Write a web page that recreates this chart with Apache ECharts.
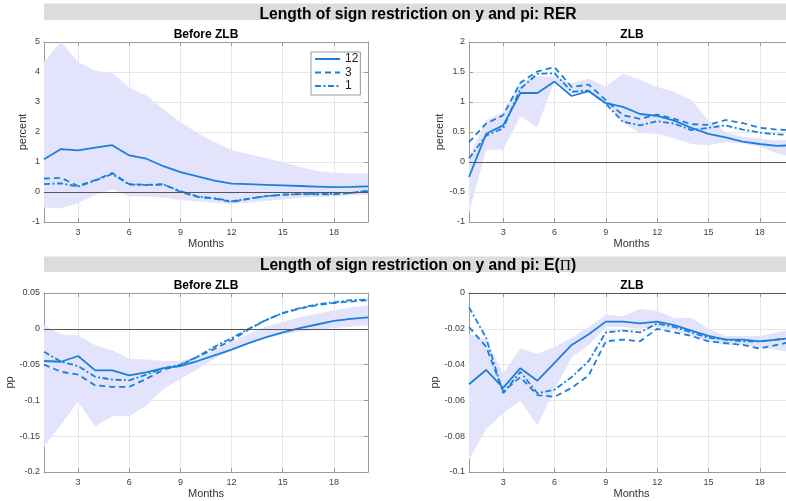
<!DOCTYPE html>
<html lang="en">
<head>
    <meta charset="UTF-8">
    <title>Length of sign restriction on y and pi</title>
    <script src="https://cdn.jsdelivr.net/npm/echarts@6.0.0/dist/echarts.min.js"></script>
</head>
<body style="margin:0">
<div id="main" style="width: 786px; height: 501px;"></div>
<script type="text/javascript">
    // horizon (months) and tick positions
    var months = [1, 2, 3, 4, 5, 6, 7, 8, 9, 10, 11, 12, 13, 14, 15, 16, 17, 18, 19, 20];
    var xTicks = [3, 6, 9, 12, 15, 18];
    var legendNames = ['12', '3', '1'];

    // RER, before ZLB
    var rerBefore12 = [1.09, 1.43, 1.39, 1.48, 1.56, 1.22, 1.11, 0.86, 0.66, 0.52, 0.38, 0.28, 0.26, 0.24, 0.22, 0.2, 0.18, 0.16, 0.17, 0.19];
    var rerBefore3 = [0.45, 0.47, 0.2, 0.4, 0.63, 0.26, 0.24, 0.26, 0.0, -0.16, -0.22, -0.33, -0.23, -0.14, -0.09, -0.07, -0.08, -0.08, -0.03, 0.03];
    var rerBefore1 = [0.26, 0.29, 0.18, 0.38, 0.6, 0.25, 0.23, 0.25, 0.03, -0.15, -0.21, -0.31, -0.22, -0.14, -0.09, -0.07, -0.06, -0.06, -0.03, 0.04];
    var rerBeforeHi = [4.33, 5.0, 4.33, 4.04, 3.97, 3.48, 3.22, 2.76, 2.33, 1.97, 1.67, 1.4, 1.26, 1.13, 0.99, 0.84, 0.7, 0.64, 0.62, 0.62];
    var rerBeforeLo = [-0.52, -0.55, -0.37, -0.1, 0.09, -0.14, -0.15, -0.18, -0.27, -0.31, -0.36, -0.4, -0.36, -0.3, -0.25, -0.2, -0.17, -0.14, -0.11, -0.09];

    // RER, ZLB
    var rerZlb12 = [-0.25, 0.47, 0.61, 1.15, 1.15, 1.34, 1.1, 1.18, 0.98, 0.92, 0.8, 0.77, 0.69, 0.57, 0.47, 0.41, 0.34, 0.3, 0.27, 0.28];
    var rerZlb3 = [0.33, 0.64, 0.78, 1.32, 1.51, 1.58, 1.25, 1.29, 1.03, 0.78, 0.72, 0.79, 0.72, 0.63, 0.62, 0.7, 0.65, 0.57, 0.54, 0.53];
    var rerZlb1 = [0.06, 0.44, 0.56, 1.22, 1.47, 1.48, 1.17, 1.19, 0.97, 0.67, 0.61, 0.68, 0.64, 0.53, 0.57, 0.61, 0.54, 0.49, 0.46, 0.45];
    var rerZlbHi = [0.08, 0.69, 0.83, 1.33, 1.43, 1.42, 1.31, 1.39, 1.26, 1.47, 1.37, 1.25, 1.17, 1.03, 0.69, 0.5, 0.42, 0.39, 0.36, 0.38];
    var rerZlbLo = [-0.85, 0.2, 0.21, 0.76, 0.58, 1.36, 1.15, 1.17, 1.0, 0.66, 0.48, 0.47, 0.39, 0.3, 0.28, 0.33, 0.31, 0.26, 0.14, 0.08];

    // E(Pi), before ZLB
    var epiBefore12 = [-0.045, -0.046, -0.038, -0.058, -0.058, -0.065, -0.061, -0.055, -0.052, -0.045, -0.037, -0.029, -0.02, -0.012, -0.005, 0.001, 0.006, 0.011, 0.014, 0.016];
    var epiBefore3 = [-0.05, -0.06, -0.064, -0.079, -0.081, -0.081, -0.07, -0.057, -0.051, -0.039, -0.028, -0.016, -0.001, 0.012, 0.022, 0.028, 0.033, 0.036, 0.038, 0.04];
    var epiBefore1 = [-0.032, -0.046, -0.052, -0.067, -0.071, -0.072, -0.064, -0.055, -0.05, -0.039, -0.025, -0.013, 0.0, 0.012, 0.022, 0.029, 0.034, 0.037, 0.04, 0.041];
    var epiBeforeHi = [0.005, -0.008, -0.009, -0.023, -0.03, -0.042, -0.043, -0.045, -0.045, -0.039, -0.03, -0.018, -0.007, 0.003, 0.01, 0.016, 0.021, 0.026, 0.03, 0.033];
    var epiBeforeLo = [-0.165, -0.134, -0.102, -0.136, -0.122, -0.122, -0.107, -0.084, -0.07, -0.056, -0.042, -0.03, -0.021, -0.012, -0.008, -0.004, -0.001, 0.001, 0.003, 0.005];

    // E(Pi), ZLB
    var epiZlb12 = [-0.051, -0.043, -0.053, -0.042, -0.049, -0.039, -0.029, -0.023, -0.016, -0.016, -0.017, -0.016, -0.018, -0.021, -0.024, -0.026, -0.026, -0.027, -0.026, -0.025];
    var epiZlb3 = [-0.019, -0.03, -0.055, -0.047, -0.057, -0.058, -0.053, -0.046, -0.027, -0.026, -0.027, -0.02, -0.022, -0.024, -0.027, -0.028, -0.029, -0.031, -0.029, -0.027];
    var epiZlb1 = [-0.008, -0.025, -0.056, -0.044, -0.056, -0.054, -0.047, -0.038, -0.022, -0.021, -0.022, -0.017, -0.019, -0.022, -0.025, -0.026, -0.027, -0.027, -0.026, -0.025];
    var epiZlbHi = [-0.023, -0.026, -0.045, -0.031, -0.034, -0.03, -0.025, -0.019, -0.012, -0.013, -0.009, -0.01, -0.014, -0.014, -0.02, -0.024, -0.024, -0.024, -0.022, -0.02];
    var epiZlbLo = [-0.093, -0.076, -0.067, -0.06, -0.074, -0.054, -0.036, -0.029, -0.019, -0.019, -0.02, -0.019, -0.021, -0.024, -0.027, -0.029, -0.029, -0.03, -0.032, -0.033];

    var lineColor = '#1a80d9';
    var bandColor = '#e3e3fb';
    var boxColor = '#9b9b9b';
    var fontSans = 'Liberation Sans';

    // right-hand panels run past the picture edge (month 20 is cut off)
    var panels = [
        {grid: {left: 44, top: 42, width: 324, height: 180}, sub: 'Before ZLB', yName: 'percent', nameGap: 13,
            min: -1, max: 5, interval: 1, lines: [rerBefore12, rerBefore3, rerBefore1], hi: rerBeforeHi, lo: rerBeforeLo},
        {grid: {left: 469, top: 42, width: 325, height: 180}, sub: 'ZLB', yName: 'percent', nameGap: 19,
            min: -1, max: 2, interval: 0.5, lines: [rerZlb12, rerZlb3, rerZlb1], hi: rerZlbHi, lo: rerZlbLo},
        {grid: {left: 44, top: 293, width: 324, height: 179}, sub: 'Before ZLB', yName: 'pp', nameGap: 22,
            min: -0.2, max: 0.05, interval: 0.05, lines: [epiBefore12, epiBefore3, epiBefore1], hi: epiBeforeHi, lo: epiBeforeLo},
        {grid: {left: 469, top: 293, width: 325, height: 179}, sub: 'ZLB', yName: 'pp', nameGap: 22,
            min: -0.1, max: 0, interval: 0.02, lines: [epiZlb12, epiZlb3, epiZlb1], hi: epiZlbHi, lo: epiZlbLo}
    ];
    var subCenters = [206, 632, 206, 632];
    var dashTypes = ['solid', [6, 4], [6, 2.5, 2, 2.5]];

    function pairs(arr) {
        return months.map(function (m, i) { return [m, arr[i]]; });
    }

    var grids = [], xAxes = [], yAxes = [], series = [], titles = [];
    var xTop = [], yRight = [];

    panels.forEach(function (p, k) {
        var g = p.grid;
        g.outerBoundsMode = 'none';
        g.containLabel = false;
        grids.push(g);
        xAxes.push({
            gridIndex: k, type: 'value', min: 1, max: 20,
            axisLine: {show: true, onZero: false, lineStyle: {color: boxColor}},
            axisTick: {show: true, inside: true, length: 4, customValues: xTicks, lineStyle: {color: boxColor}},
            axisLabel: {customValues: xTicks, fontSize: 9, color: '#404040', margin: 6},
            splitLine: {show: true, lineStyle: {color: '#e6e6e6'}},
            name: 'Months', nameLocation: 'middle', nameGap: 16,
            nameTextStyle: {fontSize: 11, color: '#333'}
        });
        xTop.push({
            gridIndex: k, type: 'value', min: 1, max: 20, position: 'top',
            axisLine: {show: true, onZero: false, lineStyle: {color: boxColor}},
            axisTick: {show: true, inside: true, length: 4, customValues: xTicks, lineStyle: {color: boxColor}},
            axisLabel: {show: false}, splitLine: {show: false}
        });
        yAxes.push({
            gridIndex: k, type: 'value', min: p.min, max: p.max, interval: p.interval,
            axisLine: {show: true, onZero: false, lineStyle: {color: boxColor}},
            axisTick: {show: true, inside: true, length: 4, lineStyle: {color: boxColor}},
            axisLabel: {fontSize: 9, color: '#404040', margin: 4},
            splitLine: {show: true, lineStyle: {color: '#e6e6e6'}},
            name: p.yName, nameLocation: 'middle', nameGap: p.nameGap,
            nameTextStyle: {fontSize: 11, color: '#333'}
        });
        yRight.push({
            gridIndex: k, type: 'value', min: p.min, max: p.max, interval: p.interval, position: 'right',
            axisLine: {show: true, onZero: false, lineStyle: {color: boxColor}},
            axisTick: {show: true, inside: true, length: 4, lineStyle: {color: boxColor}},
            axisLabel: {show: false}, splitLine: {show: false}
        });

        // confidence band as one polygon through the axis scales
        series.push({
            name: 'band', type: 'custom', xAxisIndex: k, yAxisIndex: k, silent: true, z: 1,
            data: months.map(function (m, i) { return [m, p.lo[i], p.hi[i]]; }),
            encode: {x: 0, y: [1, 2]},
            renderItem: function (params, api) {
                if (params.dataIndex !== 0) return null;
                var pts = [];
                for (var i = 0; i < months.length; i++) pts.push(api.coord([months[i], p.hi[i]]));
                for (var j = months.length - 1; j >= 0; j--) pts.push(api.coord([months[j], p.lo[j]]));
                return {type: 'polygon', shape: {points: pts}, style: {fill: bandColor}};
            }
        });

        p.lines.forEach(function (arr, s) {
            var ser = {
                name: legendNames[s], type: 'line', xAxisIndex: k, yAxisIndex: k,
                data: pairs(arr), symbol: 'none', z: 3,
                lineStyle: {color: lineColor, width: 1.8, type: dashTypes[s]},
                itemStyle: {color: lineColor}
            };
            if (s === 0) {
                ser.markLine = {
                    silent: true, symbol: ['none', 'none'], label: {show: false},
                    lineStyle: {color: '#555', width: 1, type: 'solid'},
                    data: [{yAxis: 0}]
                };
            }
            series.push(ser);
        });

        titles.push({
            text: p.sub, left: subCenters[k], textAlign: 'center',
            top: g.top - 13, padding: 0,
            textStyle: {fontSize: 12, fontWeight: 'bold', color: '#000', fontFamily: fontSans, lineHeight: 12}
        });
    });

    titles.push({
        text: 'Length of sign restriction on y and pi: RER', left: 418, textAlign: 'center', top: 7, padding: 0,
        textStyle: {fontSize: 15.6, fontWeight: 'bold', color: '#000', fontFamily: fontSans, lineHeight: 16}
    });
    titles.push({
        text: '{a|Length of sign restriction on y and pi: E(}{b|\u03A0}{a|)}', left: 418, textAlign: 'center', top: 258, padding: 0,
        textStyle: {
            rich: {
                a: {fontSize: 15.6, fontWeight: 'bold', color: '#000', fontFamily: fontSans, lineHeight: 16},
                b: {fontSize: 15.6, fontWeight: 'normal', color: '#000', fontFamily: 'Liberation Serif', lineHeight: 16}
            }
        }
    });

    var option = {
        animation: false,
        backgroundColor: '#fff',
        textStyle: {fontFamily: fontSans},
        graphic: [
            {type: 'rect', shape: {x: 44, y: 3.5, width: 760, height: 16.5}, style: {fill: '#dcdcdc'}, z: -1},
            {type: 'rect', shape: {x: 44, y: 256.5, width: 760, height: 15.5}, style: {fill: '#dcdcdc'}, z: -1}
        ],
        title: titles,
        legend: {
            data: legendNames, orient: 'vertical', left: 311, top: 52,
            itemWidth: 25, itemHeight: 12, itemGap: 1.5, padding: [1, 2, 3, 3],
            itemStyle: {opacity: 0},
            borderColor: '#999', borderWidth: 1, backgroundColor: '#fff',
            textStyle: {fontSize: 12, color: '#222', lineHeight: 12}
        },
        grid: grids,
        xAxis: xAxes.concat(xTop),
        yAxis: yAxes.concat(yRight),
        series: series
    };

    var myChart = echarts.init(document.getElementById('main'));
    myChart.setOption(option);
</script>
</body>
</html>
